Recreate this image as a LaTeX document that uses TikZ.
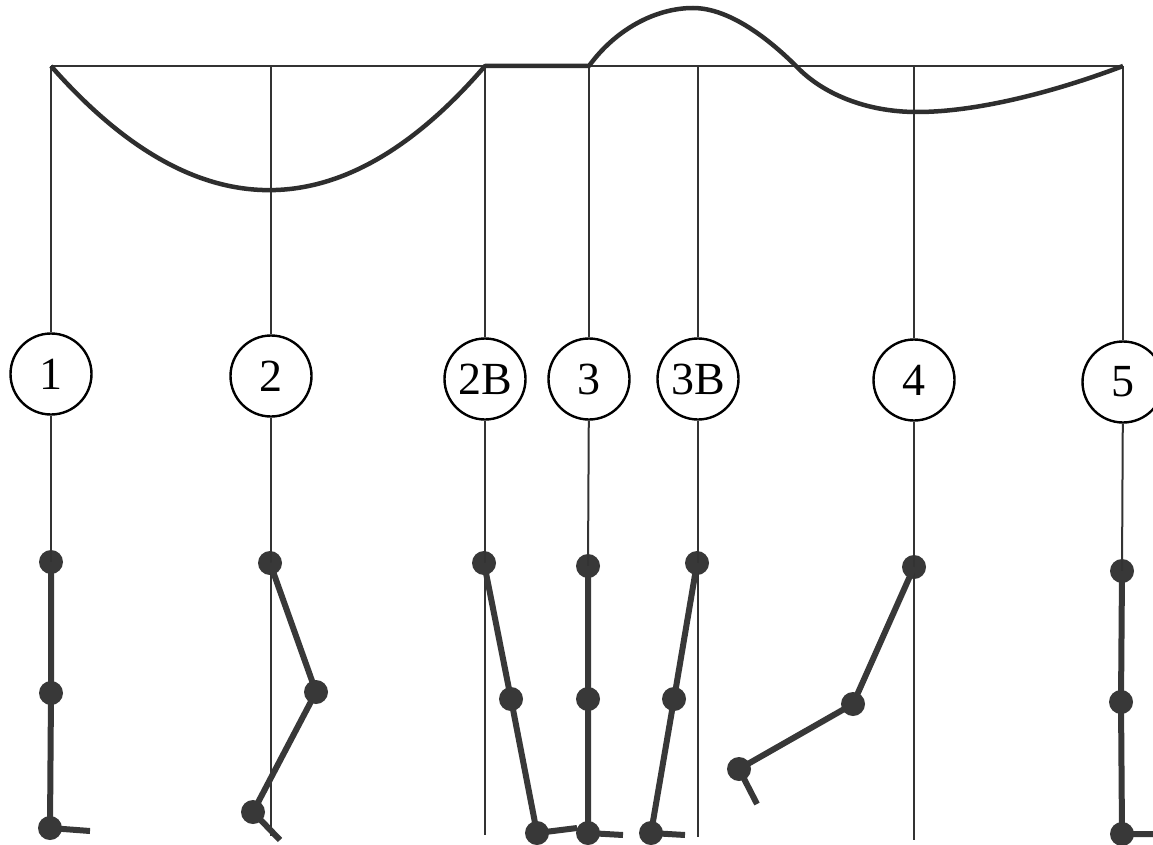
\documentclass[tikz,border=0pt]{standalone}
\usepackage{fontspec}
\setmainfont{Liberation Serif}
\begin{document}
\begin{tikzpicture}[x=1pt,y=-1pt,
  thinline/.style={line width=2pt, draw=black!80},
  limb/.style={line width=6pt, draw=black!78, line join=round},
  wave/.style={line width=4.5pt, draw=black!82, line join=round},
  joint/.style={circle, fill=black!78, inner sep=0pt, minimum size=24pt},
  phase/.style={circle, draw=black, line width=2.4pt, fill=white, inner sep=0pt,
                minimum size=81pt, font=\fontsize{46}{46}\selectfont}]
\useasboundingbox (0,0) rectangle (1153,845);
\fill[white] (0,0) rectangle (1153,845);
\clip (0,0) rectangle (1153,845);

% points where the columns meet the ground line
\coordinate (t1) at (51,66);
\coordinate (t2) at (271,66);
\coordinate (t2b) at (485,66);
\coordinate (t3) at (589,66);
\coordinate (t3b) at (698,66);
\coordinate (t4) at (914,66);
\coordinate (t5) at (1123,66);

% phase labels
\node[phase] (c1) at (51,374) {1};
\node[phase] (c2) at (271,376) {2};
\node[phase] (c2b) at (485,379) {2B};
\node[phase] (c3) at (589,379) {3};
\node[phase] (c3b) at (698,379) {3B};
\node[phase] (c4) at (914,380) {4};
\node[phase] (c5) at (1123,382) {5};

% joints: hip, knee, ankle
\node[joint] (h1) at (51,562) {};   \node[joint] (k1) at (51,693) {};   \node[joint] (a1) at (50,828) {};
\node[joint] (h2) at (270,563) {};  \node[joint] (k2) at (316,692) {};  \node[joint] (a2) at (253,812) {};
\node[joint] (h2b) at (484,563) {}; \node[joint] (k2b) at (511,699) {}; \node[joint] (a2b) at (537,833) {};
\node[joint] (h3) at (588,566) {};  \node[joint] (k3) at (588,699) {};  \node[joint] (a3) at (588,833) {};
\node[joint] (h3b) at (697,563) {}; \node[joint] (k3b) at (674,699) {}; \node[joint] (a3b) at (651,833) {};
\node[joint] (h4) at (914,567) {};  \node[joint] (k4) at (853,704) {};  \node[joint] (a4) at (739,769) {};
\node[joint] (h5) at (1122,571) {}; \node[joint] (k5) at (1121,702) {}; \node[joint] (a5) at (1122,834) {};

% toe tips and lower ends of the plumb lines
\coordinate (f1) at (90,831);
\coordinate (f2) at (280,840);
\coordinate (f2b) at (577,828);
\coordinate (f3) at (623,835);
\coordinate (f3b) at (685,835);
\coordinate (f4) at (757,804);
\coordinate (f5) at (1165,834);
\coordinate (b2) at (271,836);
\coordinate (b2b) at (485,835);
\coordinate (b3b) at (698,837);
\coordinate (b4) at (914,840);

% ground line
\draw[thinline] (t1) -- (t5);

% plumb lines through the phase labels
\foreach \c in {1,2,2b,3,3b,4,5} \draw[thinline] (t\c) -- (c\c);
\draw[thinline] (c1) -- (h1.center);
\draw[thinline] (c2) -- (b2);
\draw[thinline] (c2b) -- (b2b);
\draw[thinline] (c3) -- (h3.center);
\draw[thinline] (c3b) -- (b3b);
\draw[thinline] (c4) -- (b4);
\draw[thinline] (c5) -- (h5.center);

% foot trajectory
\draw[wave] (t1)
  .. controls (196,231) and (342,232) .. (t2b)
  -- (t3)
  .. controls (615,30) and (655,8) .. (693,8)
  .. controls (730,8) and (770,40) .. (797,67)
  .. controls (822,93) and (865,112) .. (917,112)
  .. controls (980,112) and (1060,90) .. (t5);

% legs
\draw[limb] (h1.center) -- (k1.center) -- (a1.center) -- (f1);
\draw[limb] (h2.center) -- (k2.center) -- (a2.center) -- (f2);
\draw[limb] (h2b.center) -- (k2b.center) -- (a2b.center) -- (f2b);
\draw[limb] (h3.center) -- (k3.center) -- (a3.center) -- (f3);
\draw[limb] (h3b.center) -- (k3b.center) -- (a3b.center) -- (f3b);
\draw[limb] (h4.center) -- (k4.center) -- (a4.center) -- (f4);
\draw[limb] (h5.center) -- (k5.center) -- (a5.center) -- (f5);
\end{tikzpicture}
\end{document}
